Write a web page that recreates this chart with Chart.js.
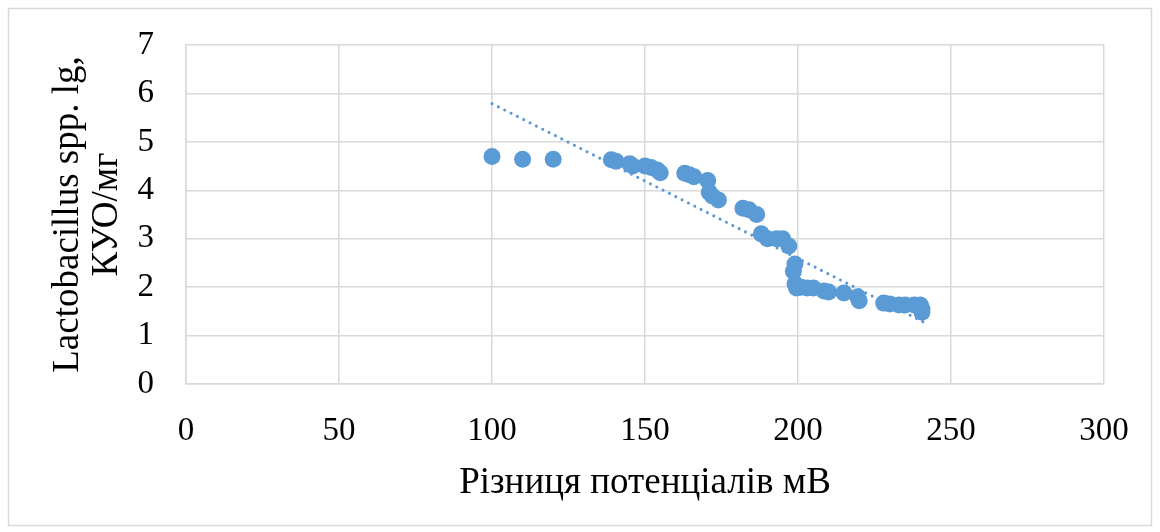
<!DOCTYPE html>
<html>
<head>
<meta charset="utf-8">
<script src="https://cdn.jsdelivr.net/npm/chart.js@4/dist/chart.umd.min.js"></script>
<style>
    html, body { margin: 0; padding: 0; background: #fff; }
    #wrap { width: 1160px; height: 532px; position: relative; }
</style>
</head>
<body>
<div id="wrap"><canvas id="myChart" width="1160" height="532"></canvas></div>
<script>
// measured points: potential difference (mV) vs lg CFU/mg
const potentialX = [
    100, 110, 120, 139, 140.5, 145, 146, 150, 152, 154, 155,
    163, 164.5, 166, 170.5, 171, 172, 174, 182, 184, 186.5,
    188, 190, 193, 195, 197, 199, 198.5, 199, 199.5, 201, 203, 205,
    208.5, 210, 215, 219.5, 220, 228, 230, 233, 235, 238, 240, 240.5, 240.5
];
const lactoY = [
    4.70, 4.64, 4.64, 4.63, 4.60, 4.55, 4.50, 4.50, 4.47, 4.42, 4.36,
    4.35, 4.32, 4.28, 4.20, 3.96, 3.88, 3.80, 3.63, 3.60, 3.50,
    3.10, 3.00, 3.00, 3.00, 2.85, 2.48, 2.33, 2.07, 1.98, 2.00, 1.98, 1.98,
    1.92, 1.90, 1.88, 1.80, 1.72, 1.67, 1.65, 1.63, 1.63, 1.63, 1.63, 1.55, 1.48
];

// linear trendline ends
const trendX = [100, 241];
const trendY = [5.79, 1.28];

const xTitle = "Різниця потенціалів мВ";
const yTitle = ["Lactobacillus spp. lg,", "КУО/мг"];

const blue = "#5B9BD5";
const gridColor = "#D9D9D9";
const serif = "'Liberation Serif', 'Times New Roman', serif";

const points = potentialX.map((x, i) => ({ x: x, y: lactoY[i] }));
const trend = trendX.map((x, i) => ({ x: x, y: trendY[i] }));

const frame = {
    id: "frame",
    beforeDraw(c) {
        const ctx = c.ctx;
        ctx.save();
        ctx.fillStyle = "#fff";
        ctx.fillRect(0, 0, c.width, c.height);
        ctx.strokeStyle = gridColor;
        ctx.lineWidth = 1.5;
        ctx.strokeRect(8.5, 8.5, 1143, 517);
        ctx.restore();
    }
};

new Chart(document.getElementById("myChart"), {
    type: "scatter",
    data: {
        datasets: [
            {
                type: "line",
                data: trend,
                borderColor: blue,
                borderWidth: 3,
                borderDash: [0.1, 7],
                borderCapStyle: "round",
                pointRadius: 0,
                fill: false
            },
            {
                data: points,
                backgroundColor: blue,
                borderColor: blue,
                borderWidth: 0,
                pointRadius: 8.5
            }
        ]
    },
    options: {
        responsive: false,
        animation: false,
        layout: { padding: { top: 45, right: 56, left: 0, bottom: 27 } },
        plugins: {
            legend: { display: false },
            tooltip: { enabled: false }
        },
        scales: {
            x: {
                type: "linear",
                min: 0,
                max: 300,
                ticks: {
                    stepSize: 50,
                    color: "#000",
                    padding: 28,
                    font: { family: serif, size: 33 }
                },
                grid: { color: gridColor, lineWidth: 1.5, drawTicks: false },
                border: { color: gridColor, width: 1.5 },
                title: {
                    display: true,
                    text: xTitle,
                    color: "#000",
                    padding: { top: 0, bottom: 0 },
                    font: { family: serif, size: 37 }
                },
                afterFit(scale) {
                    scale.height = 121;
                    scale.paddingLeft = 0;
                    scale.paddingRight = 0;
                }
            },
            y: {
                min: 0,
                max: 7,
                ticks: {
                    stepSize: 1,
                    color: "#000",
                    padding: 32,
                    font: { family: serif, size: 33 }
                },
                grid: { color: gridColor, lineWidth: 1.5, drawTicks: false },
                border: { color: gridColor, width: 1.5 },
                title: {
                    display: true,
                    text: yTitle,
                    color: "#000",
                    padding: { top: 49, bottom: 0 },
                    font: { family: serif, size: 37, lineHeight: 1.05 }
                },
                afterFit(scale) {
                    scale.width = 186;
                    scale.paddingTop = 0;
                    scale.paddingBottom = 0;
                }
            }
        }
    },
    plugins: [frame]
});
</script>
</body>
</html>
